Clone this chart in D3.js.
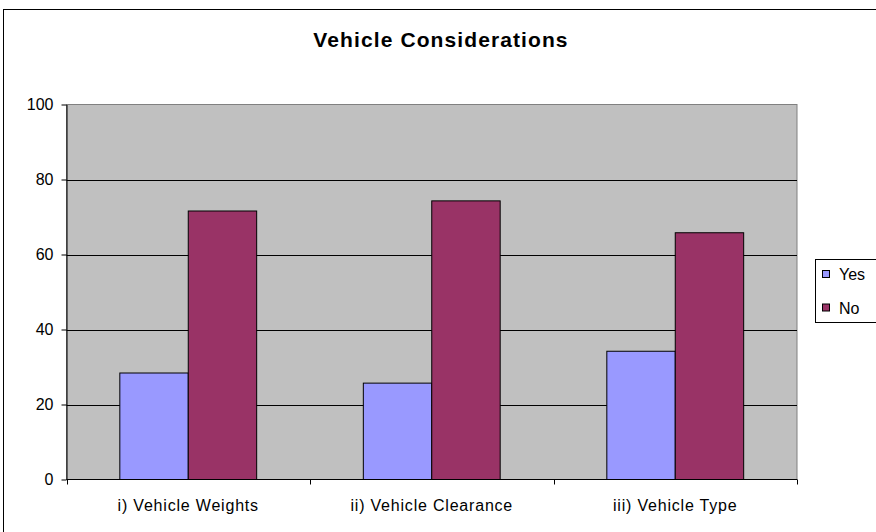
<!DOCTYPE html>
<html>
<head>
<meta charset="utf-8">
<script src="https://cdn.jsdelivr.net/npm/d3@7"></script>
<style>
  body { margin: 0; background: #fff; }
  svg { display: block; font-family: "Liberation Sans", Arial, sans-serif; }
</style>
</head>
<body>
<div id="chart"></div>
<script>
// ===== DATA =====
const categories = ["i) Vehicle Weights", "ii) Vehicle Clearance", "iii) Vehicle Type"];
const seriesNames = ["Yes", "No"];
const yesValues = [28.4, 25.7, 34.2];
const noValues = [71.6, 74.3, 65.8];
const yTicks = [0, 20, 40, 60, 80, 100];
const seriesColors = ["#9999ff", "#993366"];

// ===== SIZE =====
const width = 876;
const height = 532;
const plot = { left: 66.5, right: 797, top: 104.5, bottom: 479.5 };

const svg = d3.select("#chart")
  .append("svg")
  .attr("width", width)
  .attr("height", height);

// outer chart frame (runs off the right/bottom edge)
svg.append("rect")
  .attr("x", 3.5).attr("y", 9.5)
  .attr("width", 920).attr("height", 600)
  .attr("fill", "#fff")
  .attr("stroke", "#000");

// title
svg.append("text")
  .attr("x", 441)
  .attr("y", 47)
  .attr("text-anchor", "middle")
  .style("font-size", "21px")
  .style("font-weight", "bold")
  .style("letter-spacing", "1.1px")
  .text("Vehicle Considerations");

// scales
const y = d3.scaleLinear()
  .domain([0, 100])
  .range([plot.bottom, plot.top]);

const x0 = d3.scaleBand()
  .domain(categories)
  .range([plot.left, plot.right])
  .paddingInner(0.438)
  .paddingOuter(0.219);

const x1 = d3.scaleBand()
  .domain(seriesNames)
  .range([0, x0.bandwidth()]);

const color = d3.scaleOrdinal().domain(seriesNames).range(seriesColors);

// plot background
svg.append("rect")
  .attr("x", plot.left).attr("y", plot.top)
  .attr("width", plot.right - plot.left)
  .attr("height", plot.bottom - plot.top)
  .attr("fill", "#c0c0c0")
  .attr("stroke", "#808080");

// gridlines
svg.append("g")
  .selectAll("line")
  .data(yTicks.filter(d => d > 0 && d < 100))
  .join("line")
  .attr("x1", plot.left).attr("x2", plot.right)
  .attr("y1", d => Math.round(y(d)) + 0.5)
  .attr("y2", d => Math.round(y(d)) + 0.5)
  .attr("stroke", "#000");

// bars
const rows = categories.map((c, i) => ({ cat: c, values: [yesValues[i], noValues[i]] }));

svg.append("g")
  .selectAll("g")
  .data(rows)
  .join("g")
  .attr("transform", d => `translate(${x0(d.cat)},0)`)
  .selectAll("rect")
  .data(d => d.values.map((v, i) => ({ name: seriesNames[i], value: v })))
  .join("rect")
  .attr("x", d => x1(d.name))
  .attr("y", d => y(d.value))
  .attr("width", x1.bandwidth())
  .attr("height", d => y(0) - y(d.value))
  .attr("fill", d => color(d.name))
  .attr("stroke", "#000")
  .attr("stroke-width", 1);

// y axis
const yAxis = svg.append("g")
  .attr("transform", `translate(${plot.left},0)`)
  .call(d3.axisLeft(y).tickValues(yTicks).tickSize(5).tickSizeOuter(0).tickPadding(8));
yAxis.select(".domain").attr("stroke", "#000");
yAxis.selectAll(".tick line").attr("stroke", "#000");
yAxis.selectAll("text")
  .style("font-size", "16px")
  .style("font-family", "'Liberation Sans', Arial, sans-serif")
  .attr("fill", "#000");

// x axis line + category boundary ticks
svg.append("line")
  .attr("x1", plot.left).attr("x2", plot.right)
  .attr("y1", plot.bottom).attr("y2", plot.bottom)
  .attr("stroke", "#000");

const bounds = d3.range(categories.length + 1).map(i => plot.left + i * x0.step());
svg.append("g")
  .selectAll("line")
  .data(bounds)
  .join("line")
  .attr("x1", d => Math.round(d) + 0.5).attr("x2", d => Math.round(d) + 0.5)
  .attr("y1", plot.bottom).attr("y2", plot.bottom + 5)
  .attr("stroke", "#000");

svg.append("g")
  .selectAll("text")
  .data(categories)
  .join("text")
  .attr("x", d => x0(d) + x0.bandwidth() / 2)
  .attr("y", 511)
  .attr("text-anchor", "middle")
  .style("font-size", "16px")
  .style("letter-spacing", "0.8px")
  .text(d => d);

// legend
const legend = svg.append("g");
legend.append("rect")
  .attr("x", 815.5).attr("y", 259.5)
  .attr("width", 80).attr("height", 63)
  .attr("fill", "#fff")
  .attr("stroke", "#000");

const items = legend.selectAll("g.item")
  .data(seriesNames)
  .join("g")
  .attr("class", "item")
  .attr("transform", (d, i) => `translate(822,${274 + i * 33.5})`);

items.append("rect")
  .attr("x", 0.5).attr("y", -3.5)
  .attr("width", 7).attr("height", 7)
  .attr("fill", d => color(d))
  .attr("stroke", "#000");

items.append("text")
  .attr("x", 17)
  .attr("y", 6)
  .style("font-size", "16px")
  .text(d => d);
</script>
</body>
</html>
